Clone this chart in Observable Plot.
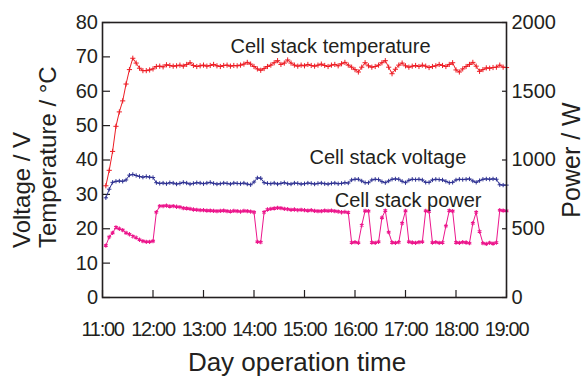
<!DOCTYPE html>
<html><head><meta charset="utf-8">
<script src="https://cdn.jsdelivr.net/npm/d3@7"></script>
<script src="https://cdn.jsdelivr.net/npm/@observablehq/plot@0.6"></script>
<style>
html,body{margin:0;padding:0;background:#fff;}
</style></head><body><div id="chart"></div>
<script>
// time in minutes after 11:00
const minutes = [
  4, 8, 12, 16, 20, 24, 28, 32, 36, 40,
  44, 48, 52, 56, 60, 64, 68, 72, 76, 80,
  84, 88, 92, 96, 100, 104, 108, 112, 116, 120,
  124, 128, 132, 136, 140, 144, 148, 152, 156, 160,
  164, 168, 172, 176, 180, 184, 188, 192, 196, 200,
  204, 208, 212, 216, 220, 224, 228, 232, 236, 240,
  244, 248, 252, 256, 260, 264, 268, 272, 276, 280,
  284, 288, 292, 296, 300, 304, 308, 312, 316, 320,
  324, 328, 332, 336, 340, 344, 348, 352, 356, 360,
  364, 368, 372, 376, 380, 384, 388, 392, 396, 400,
  404, 408, 412, 416, 420, 424, 428, 432, 436, 440,
  444, 448, 452, 456, 460, 464, 468, 472, 476, 480
];
// Cell stack temperature (°C)
const temperature = [
  32.5, 37.0, 42.5, 49.8, 54.0, 57.2, 62.1, 66.3, 69.6, 68.2,
  66.7, 66.0, 66.0, 66.2, 66.5, 67.2, 67.3, 67.1, 67.7, 67.5,
  67.3, 67.4, 67.6, 67.3, 67.8, 68.3, 67.5, 67.2, 67.4, 67.6,
  67.3, 67.5, 67.8, 67.4, 67.2, 67.5, 67.6, 67.3, 67.5, 67.4,
  67.6, 67.9, 68.4, 67.9, 67.2, 66.5, 66.1, 66.6, 67.2, 67.6,
  68.3, 68.9, 67.8, 68.2, 69.1, 68.2, 67.6, 67.3, 67.6, 67.4,
  67.8, 67.5, 67.3, 67.6, 67.9, 67.5, 67.2, 67.6, 67.8, 67.4,
  68.0, 68.4, 67.6, 67.0, 66.3, 65.6, 67.0, 68.3, 67.4, 67.0,
  67.2, 67.6, 68.3, 68.9, 67.0, 65.1, 66.4, 67.6, 68.2, 67.4,
  67.0, 67.3, 67.5, 67.2, 67.6, 67.3, 66.9, 67.2, 67.4, 67.8,
  67.5, 67.2, 67.8, 68.3, 66.2, 65.6, 66.5, 67.2, 67.8, 68.4,
  67.3, 65.8, 66.3, 66.8, 66.7, 66.9, 67.0, 67.6, 67.0, 66.9
];
// Cell stack voltage (V)
const voltage = [
  29.0, 31.5, 33.5, 33.8, 33.9, 33.8, 34.2, 35.6, 35.8, 35.5,
  35.2, 35.0, 35.2, 35.0, 34.9, 33.4, 33.2, 33.3, 33.1, 33.4,
  33.3, 33.0, 33.2, 33.5, 33.3, 33.0, 33.2, 33.4, 33.3, 33.1,
  33.3, 33.5, 33.2, 33.0, 33.1, 33.3, 33.2, 33.0, 33.3, 33.2,
  33.1, 33.3, 33.0, 32.8, 33.6, 34.8, 34.7, 33.4, 33.2, 33.1,
  33.3, 33.0, 33.2, 33.4, 33.1, 33.0, 33.3, 33.2, 33.0, 33.1,
  33.3, 33.2, 33.0, 33.2, 33.3, 33.1, 33.0, 33.2, 33.3, 33.1,
  33.2, 33.4, 33.3, 34.2, 34.4, 34.4, 33.9, 33.4, 33.4, 34.2,
  34.4, 34.3, 33.7, 33.4, 33.9, 34.4, 34.5, 34.4, 33.8, 33.4,
  34.1, 34.4, 34.3, 34.4, 34.2, 33.5, 33.5, 34.2, 34.4, 34.3,
  34.2, 33.8, 33.4, 33.5, 34.2, 34.4, 34.3, 34.4, 34.5, 33.9,
  33.5, 34.0, 34.4, 34.5, 34.4, 34.5, 34.4, 32.8, 32.7, 32.7
];
// Cell stack power (W)
const power = [
  378, 440, 470, 510, 500, 490, 470, 460, 445, 435,
  420, 410, 405, 405, 410, 620, 665, 665, 668, 662,
  665, 660, 658, 650, 648, 645, 640, 638, 635, 635,
  632, 632, 630, 628, 630, 632, 628, 626, 630, 628,
  625, 630, 628, 625, 620, 405, 402, 620, 640, 645,
  648, 652, 650, 645, 642, 638, 640, 636, 638, 635,
  632, 635, 630, 628, 628, 632, 630, 632, 628, 625,
  620, 622, 618, 400, 402, 398, 525, 630, 628, 400,
  398, 405, 580, 632, 475, 400, 398, 402, 540, 630,
  405, 400, 398, 402, 405, 630, 625, 400, 402, 398,
  400, 520, 632, 628, 400, 398, 402, 400, 395, 540,
  620, 480, 395, 390, 398, 392, 400, 635, 632, 630
];
const xTicks = [0, 60, 120, 180, 240, 300, 360, 420, 480];
const xTickLabels = ["11:00", "12:00", "13:00", "14:00", "15:00", "16:00", "17:00", "18:00", "19:00"];
const leftTicks = [0, 10, 20, 30, 40, 50, 60, 70, 80];
const powerTicks = [0, 500, 1000, 1500, 2000];
const powerMax = 2000;
const leftMax = 80;
const seriesNames = ["Cell stack temperature", "Cell stack voltage", "Cell stack power"];
const labelMinutes = [152, 246, 276];
const labelValues = [71.1, 38.9, 26.3];

const colors = {temp: "#ed1c24", volt: "#2e3192", pow: "#ec168c"};
const ink = "#231f20";
const ratio = powerMax / leftMax;

const rows = minutes.map((m, i) => ({m, temp: temperature[i], volt: voltage[i], pow: power[i] / ratio}));
const labels = seriesNames.map((name, i) => ({name, m: labelMinutes[i], v: labelValues[i]}));

const W = 585, H = 377;
const chart = Plot.plot({
  width: W, height: H,
  marginLeft: 102, marginRight: 79, marginTop: 22, marginBottom: 80,
  style: {fontFamily: "'Liberation Sans', Arial, sans-serif", fontSize: "20px", color: ink, background: "#fff"},
  x: {domain: [0, 480]},
  y: {domain: [0, 80]},
  marks: [
    Plot.axisY({anchor: "left", ticks: leftTicks, tickSize: -8, tickPadding: 12.5, label: null, color: ink, fontSize: 20, strokeWidth: 1.2}),
    Plot.axisY({anchor: "right", ticks: powerTicks.map(p => p / ratio), tickFormat: d => String(Math.round(d * ratio)), tickSize: -5, tickPadding: 10, label: null, color: ink, fontSize: 20, strokeWidth: 1.2}),
    Plot.axisX({anchor: "bottom", ticks: xTicks, tickFormat: d => xTickLabels[xTicks.indexOf(d)], tickSize: -7, tickPadding: 31, label: null, color: ink, fontSize: 20, strokeWidth: 1.2}),
    Plot.line(rows, {x: "m", y: "temp", stroke: colors.temp, strokeWidth: 1}),
    Plot.dot(rows, {x: "m", y: "temp", stroke: colors.temp, symbol: "plus", r: 1.8, strokeWidth: 1}),
    Plot.line(rows, {x: "m", y: "volt", stroke: colors.volt, strokeWidth: 1}),
    Plot.dot(rows, {x: "m", y: "volt", stroke: colors.volt, symbol: "plus", r: 1.5, strokeWidth: 1}),
    Plot.line(rows, {x: "m", y: "pow", stroke: colors.pow, strokeWidth: 1}),
    Plot.dot(rows, {x: "m", y: "pow", stroke: colors.pow, symbol: "asterisk", r: 2.0, strokeWidth: 1.1}),
    Plot.text(labels, {x: "m", y: "v", text: "name", textAnchor: "start", lineAnchor: "bottom", fontSize: 20, fill: ink}),
    Plot.frame({stroke: ink, strokeWidth: 1.6})
  ]
});

const svg = d3.select(chart);
svg.selectAll("g[aria-label='x-axis tick label'] text").style("letter-spacing", "-1.3px");
const tf = "'Liberation Sans', Arial, sans-serif";
svg.append("text").text("Day operation time")
  .attr("x", 297).attr("y", 371).attr("text-anchor", "middle")
  .attr("font-size", 26).attr("font-family", tf).attr("fill", ink);
svg.append("text").text("Voltage / V")
  .attr("transform", "translate(30,248) rotate(-90)").attr("text-anchor", "start")
  .attr("font-size", 24).attr("font-family", tf).attr("fill", ink);
svg.append("text").text("Temperature / °C")
  .attr("transform", "translate(56,248) rotate(-90)").attr("text-anchor", "start")
  .attr("font-size", 24).attr("font-family", tf).attr("fill", ink);
svg.append("text").text("Power / W")
  .attr("transform", "translate(580,160) rotate(-90)").attr("text-anchor", "middle")
  .attr("font-size", 25).attr("font-family", tf).attr("fill", ink);

document.getElementById("chart").appendChild(chart);
</script>
</body></html>
